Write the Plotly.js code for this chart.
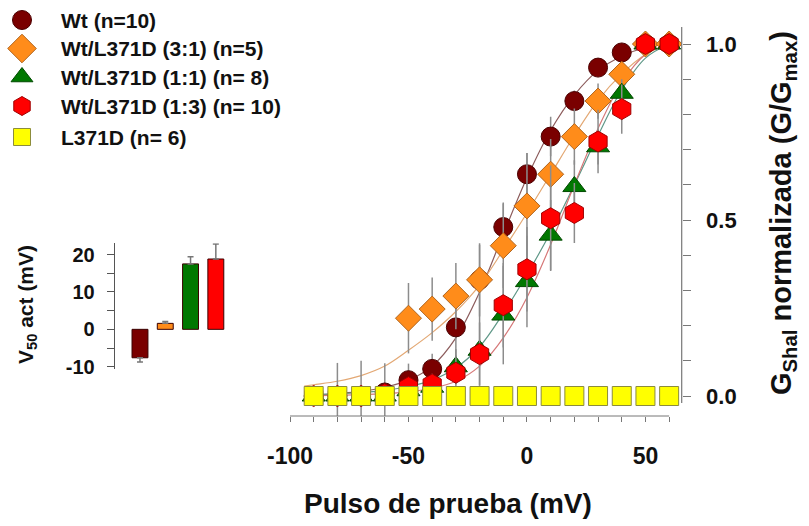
<!DOCTYPE html>
<html>
<head>
<meta charset="utf-8">
<script src="https://cdn.plot.ly/plotly-3.0.1.min.js"></script>
<style>
html,body{margin:0;padding:0;background:#fff;}
#chart{width:809px;height:526px;}
</style>
</head>
<body>
<div id="chart"></div>
<script>
// ---------- data ----------
const voltages = [-90,-80,-70,-60,-50,-40,-30,-20,-10,0,10,20,30,40,50,60];
const wtVals   = [0,0,0,0.01,0.045,0.077,0.195,0.33,0.48,0.63,0.737,0.838,0.933,0.976,1.0,1.0];
const wtErr    = [0,0.094,0.1,0.083,0.047,0.043,0.12,0.1,0.07,0.06,0.056,0.03,0.02,0.01,0,0];
const r31Vals  = [null,null,null,null,0.221,0.247,0.284,0.33,0.427,0.54,0.63,0.737,0.838,0.914,1.0,1.0];
const r31Err   = [0,0,0,0,0.1,0.09,0.094,0.104,0.12,0.15,0.1,0.08,0.05,0.03,0,0];
const r11Vals  = [0,0,0,0,0.015,0.025,0.083,0.13,0.23,0.325,0.457,0.595,0.708,0.86,1.0,1.0];
const r11Err   = [0,0,0,0,0.01,0.02,0.05,0.1,0.14,0.13,0.1,0.075,0.05,0.04,0,0];
const r13Vals  = [0,0,0,0.005,0.025,0.033,0.066,0.119,0.258,0.36,0.505,0.52,0.723,0.815,1.0,1.0];
const r13Err   = [0,0,0,0,0.02,0.03,0.05,0.09,0.12,0.12,0.15,0.085,0.09,0.07,0,0];
const mutVals  = [0,0,0,0,0,0,0,0,0,0,0,0,0,0,0,0];

const fitV     = [-94,-90,-80,-70,-60,-50,-40,-30,-20,-10,0,10,20,30,40,50,60];
const wtFit    = [0.002,0.003,0.007,0.013,0.025,0.045,0.085,0.165,0.295,0.46,0.62,0.755,0.855,0.925,0.965,0.99,1.0];
const r31Fit   = [0.028,0.032,0.042,0.058,0.085,0.13,0.18,0.24,0.315,0.415,0.52,0.63,0.74,0.84,0.915,0.97,1.0];
const r11Fit   = [0.003,0.004,0.006,0.01,0.016,0.027,0.045,0.08,0.14,0.235,0.345,0.465,0.6,0.74,0.87,0.96,1.0];
const r13Fit   = [0.001,0.001,0.002,0.004,0.007,0.012,0.022,0.042,0.085,0.165,0.28,0.43,0.6,0.76,0.89,0.97,1.0];

const seriesNames = ['Wt (n=10)','Wt/L371D (3:1) (n=5)','Wt/L371D (1:1) (n= 8)','Wt/L371D (1:3) (n= 10)','L371D (n= 6)'];

const v50Groups = ['Wt','3:1','1:1','1:3'];
const v50Vals   = [-7.6,1.6,17.5,18.8];
const v50Err    = [1.1,0.5,1.9,4.0];

const xTickVals = [-100,-50,0,50];
const xTickText = ['-100','-50','0','50'];
const yTickVals = [0,0.5,1.0];
const yTickText = ['0.0','0.5','1.0'];
const v50TickVals = [-10,0,10,20];
const v50TickText = ['-10','0','10','20'];

// ---------- styling ----------
const FONT = 'Arial, "Liberation Sans", Helvetica, sans-serif';
const W = 809, H = 526;
const px = v => v / W;
const py = v => 1 - v / H;
const errStyle = {color:'#8c8c8c', thickness:1.5, width:0};

const traces = [];
const fitCols = ['#8c5c5c','#e3a874','#5f9888','#d67878'];
[wtFit, r31Fit, r11Fit, r13Fit].forEach((f,i)=>{
  traces.push({x:fitV, y:f, type:'scatter', mode:'lines', line:{color:fitCols[i], width:1.2, shape:'spline'},
    showlegend:false, hoverinfo:'skip', xaxis:'x', yaxis:'y'});
});
const markerDefs = [
  {vals:wtVals, err:wtErr, symbol:'circle', size:19, lsize:19, color:'#7a0000', lc:'#4a0000'},
  {vals:r31Vals, err:r31Err, symbol:'diamond', size:20, lsize:22, color:'#ff8c1a', lc:'#b0651e'},
  {vals:r11Vals, err:r11Err, symbol:'triangle-up', size:20, lsize:19, color:'#007800', lc:'#004a00'},
  {vals:r13Vals, err:r13Err, symbol:'hexagon', size:21, lsize:19, color:'#ff0000', lc:'#a00000'},
  {vals:mutVals, err:null, symbol:'square', size:19, lsize:17, color:'#ffff00', lc:'#8c8c3c'}
];
markerDefs.forEach((d,i)=>{
  const t = {x:voltages, y:d.vals, type:'scatter', mode:'markers', name:seriesNames[i], showlegend:false,
    marker:{symbol:d.symbol, size:d.size, color:d.color, opacity:1, line:{color:d.lc, width:1}},
    xaxis:'x', yaxis:'y'};
  if (d.err) t.error_y = Object.assign({type:'data', array:d.err, visible:true}, errStyle);
  traces.push(t);
});
const barCols = ['#7a0000','#ff8c1a','#007800','#ff0000'];
traces.push({x:v50Groups, y:v50Vals, type:'bar', xaxis:'x2', yaxis:'y2', showlegend:false, width:0.63,
  marker:{color:barCols, line:{color:'#3a0000', width:1}},
  error_y:{type:'data', symmetric:false,
    array: v50Vals.map((v,i)=> v>=0 ? v50Err[i] : 0),
    arrayminus: v50Vals.map((v,i)=> v<0 ? v50Err[i] : 0),
    color:'#777', thickness:1.5, width:3}
});

// manual legend (pixel-coordinate overlay axis)
const legRowY = [20, 48.5, 77, 106, 137];
const legSymX = 22, legTextX = 59;
traces.push({x:legRowY.map(()=>legSymX), y:legRowY, type:'scatter', mode:'markers', xaxis:'x3', yaxis:'y3',
  showlegend:false, hoverinfo:'skip', cliponaxis:false,
  marker:{symbol:markerDefs.map(d=>d.symbol), size:markerDefs.map(d=>d.lsize), color:markerDefs.map(d=>d.color),
    opacity:1, line:{color:markerDefs.map(d=>d.lc), width:1}}});

const annotations = [
  {text:'Pulso de prueba (mV)', xref:'paper', yref:'paper', x:px(448), y:py(503), xanchor:'center', yanchor:'middle',
    showarrow:false, font:{family:FONT, size:28, weight:'bold', color:'#111'}},
  {text:'G<sub>Shal</sub> normalizada (G/G<sub>max</sub>)', xref:'paper', yref:'paper', x:px(783), y:py(213),
    xanchor:'center', yanchor:'middle', textangle:-90, showarrow:false, font:{family:FONT, size:29, weight:'bold', color:'#111'}},
  {text:'V<sub>50</sub> act (mV)', xref:'paper', yref:'paper', x:px(27), y:py(305),
    xanchor:'center', yanchor:'middle', textangle:-90, showarrow:false, font:{family:FONT, size:21, weight:'bold', color:'#111'}}
];
seriesNames.forEach((n,i)=>{
  annotations.push({text:n, xref:'x3', yref:'y3', x:legTextX, y:legRowY[i], xanchor:'left', yanchor:'middle',
    showarrow:false, font:{family:FONT, size:21, weight:'bold', color:'#111'}});
});

const layout = {
  width:W, height:H,
  margin:{l:0,r:0,t:0,b:0, autoexpand:false},
  paper_bgcolor:'#fff', plot_bgcolor:'rgba(0,0,0,0)',
  font:{family:FONT, color:'#111'},
  showlegend:false,
  xaxis:{domain:[px(290), px(681.7)], range:[-100, 65.3], anchor:'y', showline:false, zeroline:false, showgrid:false,
    tickmode:'array', tickvals:xTickVals, ticktext:xTickText, ticks:'outside', ticklen:5, tickcolor:'#777', tickwidth:1,
    minor:{dtick:10, tick0:0, ticks:'outside', ticklen:5, tickcolor:'#777', tickwidth:1, showgrid:false},
    tickfont:{family:FONT, size:23, weight:'bold', color:'#111'}, ticklabelstandoff:14},
  yaxis:{domain:[py(416), py(27)], range:[-0.0568, 1.0483], anchor:'x', side:'right', showline:false, zeroline:false, showgrid:false,
    tickmode:'array', tickvals:yTickVals, ticktext:yTickText, ticks:'outside', ticklen:8, tickcolor:'#777', tickwidth:1,
    minor:{dtick:0.1, tick0:0, ticks:'outside', ticklen:8, tickcolor:'#777', tickwidth:1, showgrid:false},
    tickfont:{family:FONT, size:22, weight:'bold', color:'#111'}, ticklabelstandoff:11},
  xaxis2:{domain:[px(114.7), px(231)], range:[-1, 3.6], anchor:'y2', type:'category', visible:false},
  yaxis2:{domain:[py(369), py(243.3)], range:[-10.6, 23], anchor:'x2', showline:true, linecolor:'#555', linewidth:1,
    zeroline:false, showgrid:false, tickmode:'array', tickvals:v50TickVals, ticktext:v50TickText, ticks:'outside', ticklen:7, tickcolor:'#555',
    minor:{dtick:5, tick0:0, ticks:'outside', ticklen:7, tickcolor:'#555', showgrid:false},
    tickfont:{family:FONT, size:20, weight:'bold', color:'#111'}, ticklabelstandoff:8},
  xaxis3:{domain:[0,1], range:[0, W], anchor:'y3', visible:false, fixedrange:true},
  yaxis3:{domain:[0,1], range:[H, 0], anchor:'x3', visible:false, fixedrange:true},
  shapes:[
    {type:'line', xref:'x', yref:'paper', x0:-100, x1:60, y0:py(416), y1:py(416), line:{color:'#777', width:1}},
    {type:'line', xref:'paper', yref:'y', x0:px(681.7), x1:px(681.7), y0:-0.02, y1:1.0483, line:{color:'#777', width:1.2}}
  ],
  annotations:annotations
};

Plotly.newPlot('chart', traces, layout, {displayModeBar:false, staticPlot:true});
</script>
</body>
</html>
